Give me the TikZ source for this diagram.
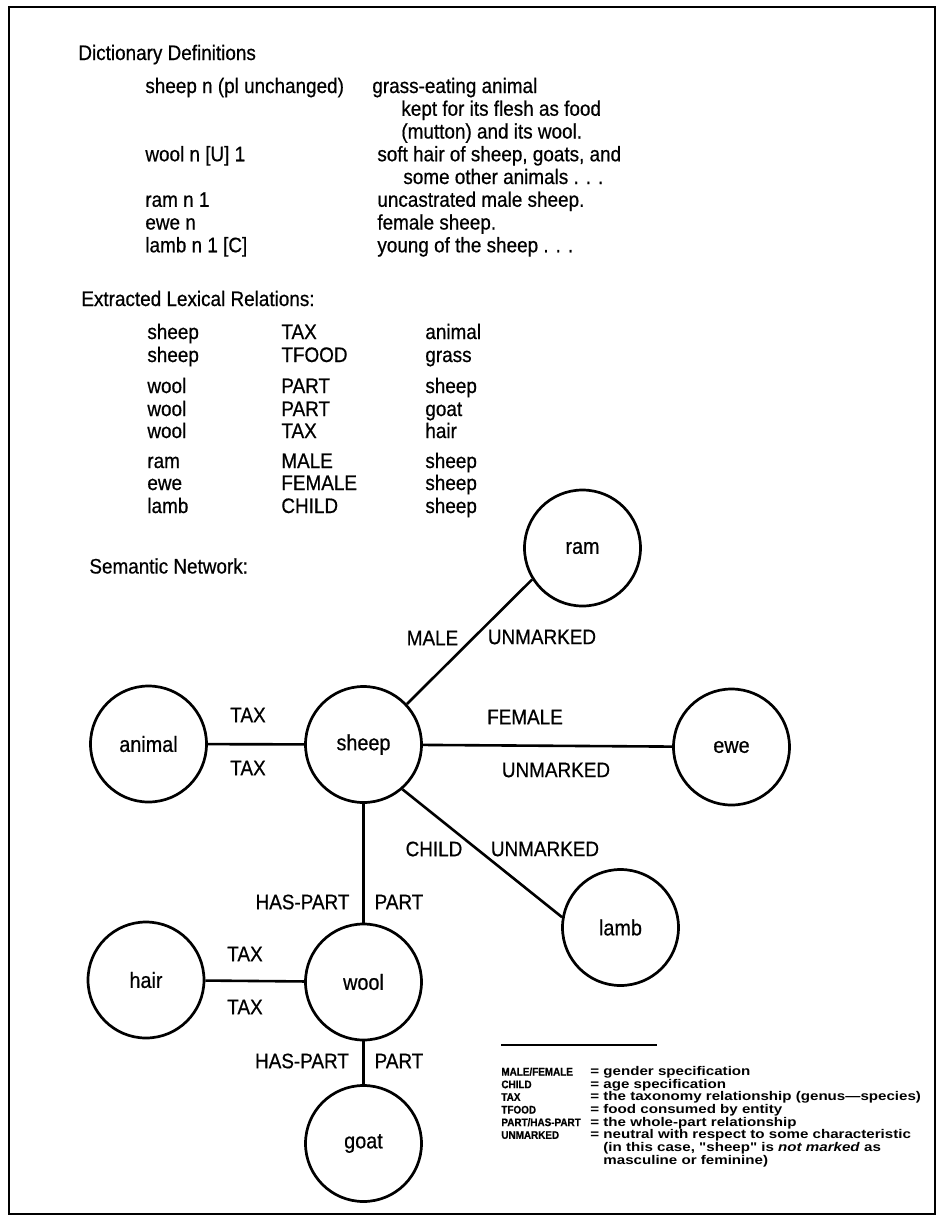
\documentclass[tikz,border=0pt]{standalone}
\usepackage{fontspec}
\setmainfont{Liberation Sans}[FakeStretch=0.9, FakeBold=0.6]
\newfontfamily\legendfont{Liberation Sans}[FakeStretch=1.2]
\usetikzlibrary{positioning}

\tikzset{
  concept/.style={draw, circle, line width=1.35pt, minimum size=58pt, inner sep=0pt,
                  font=\fontsize{11}{12}\selectfont},
  link/.style={line width=1.3pt},
  rel/.style={inner sep=0pt, font=\fontsize{10.5}{12}\selectfont},
  txt/.style={anchor=base west, inner sep=0pt, font=\fontsize{10.5}{12}\selectfont},
  keyterm/.style={anchor=base west, inner sep=0pt, font=\bfseries\fontsize{5.5}{6}\selectfont},
  keydef/.style={anchor=base west, inner sep=0pt, font=\legendfont\bfseries\fontsize{6.3}{6.5}\selectfont}
}

\begin{document}
\begin{tikzpicture}[x=0.5pt, y=-0.5pt]
        \useasboundingbox (0,0) rectangle (941,1217);
        % page frame
        \draw[line width=1pt] (9,7) rectangle (935,1214);

        % Dictionary definitions
        \node[txt] (dicthead) at (78,60) {Dictionary Definitions};
        \node[txt] (wsheep) at (145,93) {sheep n (pl unchanged)};
        \node[txt] (dsheep) at (372,93) {grass-eating animal};
        \node[txt] (dsheepb) at (401,115.75) {kept for its flesh as food};
        \node[txt] (dsheepc) at (401,138.5) {(mutton) and its wool.};
        \node[txt] (wwool) at (145,161.25) {wool n [U] 1};
        \node[txt] (dwool) at (377,161.25) {soft hair of sheep, goats, and};
        \node[txt] (dwoolb) at (403,184) {some other animals . . .};
        \node[txt] (wram) at (145,206.75) {ram n 1};
        \node[txt] (dram) at (377,206.75) {uncastrated male sheep.};
        \node[txt] (wewe) at (145,229.5) {ewe n};
        \node[txt] (dewe) at (377,229.5) {female sheep.};
        \node[txt] (wlamb) at (145,252.25) {lamb n 1 [C]};
        \node[txt] (dlamb) at (377,252.25) {young of the sheep . . .};

        % Extracted lexical relations
        \node[txt] (relhead) at (81,306) {Extracted Lexical Relations:};
        \node[txt] (ra1) at (147,339) {sheep};
        \node[txt] (rb1) at (281,339) {TAX};
        \node[txt] (rc1) at (425,339) {animal};
        \node[txt] (ra2) at (147,362) {sheep};
        \node[txt] (rb2) at (281,362) {TFOOD};
        \node[txt] (rc2) at (425,362) {grass};
        \node[txt] (ra3) at (147,393) {wool};
        \node[txt] (rb3) at (281,393) {PART};
        \node[txt] (rc3) at (425,393) {sheep};
        \node[txt] (ra4) at (147,416) {wool};
        \node[txt] (rb4) at (281,416) {PART};
        \node[txt] (rc4) at (425,416) {goat};
        \node[txt] (ra5) at (147,438) {wool};
        \node[txt] (rb5) at (281,438) {TAX};
        \node[txt] (rc5) at (425,438) {hair};
        \node[txt] (ra6) at (147,468) {ram};
        \node[txt] (rb6) at (281,468) {MALE};
        \node[txt] (rc6) at (425,468) {sheep};
        \node[txt] (ra7) at (147,490) {ewe};
        \node[txt] (rb7) at (281,490) {FEMALE};
        \node[txt] (rc7) at (425,490) {sheep};
        \node[txt] (ra8) at (147,513) {lamb};
        \node[txt] (rb8) at (281,513) {CHILD};
        \node[txt] (rc8) at (425,513) {sheep};

        % Semantic network
        \node[txt] (nethead) at (89,573.5) {Semantic Network:};

        \node[concept] (animal) at (148.5,744) {animal};
        \node[concept] (sheep) at (363.5,744.5) {sheep};
        \node[concept] (ram) at (582.5,548) {ram};
        \node[concept] (ewe) at (731.5,747) {ewe};
        \node[concept] (lamb) at (620.5,927.5) {lamb};
        \node[concept] (hair) at (146,980) {hair};
        \node[concept] (wool) at (363.5,982) {wool};
        \node[concept] (goat) at (363.5,1143.5) {goat};

        % links between concepts
        \draw[link] (animal) -- (sheep);
        \draw[link] (sheep.43) -- (ram.212);
        \draw[link] (sheep) -- (ewe);
        \draw[link] (sheep.311) -- (lamb.170);
        \draw[link] (sheep) -- (wool);
        \draw[link] (hair) -- (wool);
        \draw[link] (wool) -- (goat);

        % link labels
        \node[rel] (taxa) at (248,715) {TAX};
        \node[rel] (taxb) at (248,768) {TAX};
        \node[rel] (male) at (432.5,638) {MALE};
        \node[rel] (unmram) at (542,637) {UNMARKED};
        \node[rel] (female) at (525,717) {FEMALE};
        \node[rel] (unmewe) at (556,770) {UNMARKED};
        \node[rel] (child) at (434,849) {CHILD};
        \node[rel] (unmlamb) at (545,849) {UNMARKED};
        \node[rel] (haspa) at (302.5,902) {HAS-PART};
        \node[rel] (parta) at (399,902) {PART};
        \node[rel] (taxc) at (245,954) {TAX};
        \node[rel] (taxd) at (245,1007) {TAX};
        \node[rel] (haspb) at (302,1061) {HAS-PART};
        \node[rel] (partb) at (399,1061) {PART};

        % Legend
        \draw[line width=0.8pt] (501,1045) -- (657,1045);
        \node[keyterm] (kmale) at (501,1075.5) {MALE/FEMALE};
        \node[keydef] (dmale) at (590,1075.5) {= gender specification};
        \node[keyterm] (kchild) at (501,1088.2) {CHILD};
        \node[keydef] (dchild) at (590,1088.2) {= age specification};
        \node[keyterm] (ktax) at (501,1100.8) {TAX};
        \node[keydef] (dtax) at (590,1100.8) {= the taxonomy relationship (genus—species)};
        \node[keyterm] (ktfood) at (501,1113.5) {TFOOD};
        \node[keydef] (dtfood) at (590,1113.5) {= food consumed by entity};
        \node[keyterm] (kpart) at (501,1126.1) {PART/HAS-PART};
        \node[keydef] (dpart) at (590,1126.1) {= the whole-part relationship};
        \node[keyterm] (kunm) at (501,1138.8) {UNMARKED};
        \node[keydef] (dunm) at (590,1138.8) {= neutral with respect to some characteristic};
        \node[keydef] (dunmb) at (603,1151.4) {(in this case, "sheep" is \textit{not marked} as};
        \node[keydef] (dunmc) at (603,1164) {masculine or feminine)};
    \end{tikzpicture}
\end{document}
